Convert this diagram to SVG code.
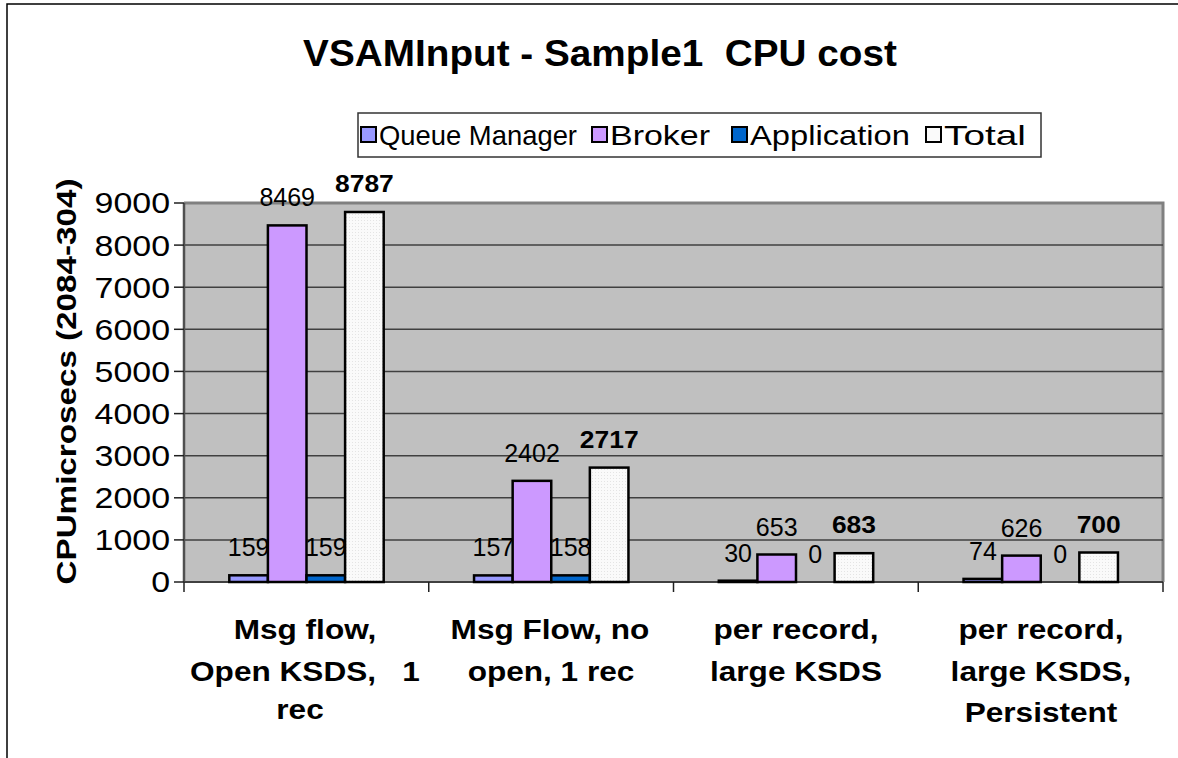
<svg xmlns="http://www.w3.org/2000/svg" width="1178" height="758" viewBox="0 0 1178 758">
  <defs>
    <style>
      text { font-family: "Liberation Sans", Arial, sans-serif; fill: #000; }
      .title { font-size: 37px; font-weight: bold; text-anchor: middle; }
      .leg { font-size: 28px; }
      .tick { font-size: 29px; text-anchor: end; }
      .cat { font-size: 27px; font-weight: bold; text-anchor: middle; }
      .ytitle { font-size: 27px; font-weight: bold; text-anchor: middle; }
      .val { font-size: 25px; text-anchor: middle; }
      .valb { font-size: 24px; font-weight: bold; text-anchor: middle; }
      .bar { stroke: #000; stroke-width: 2.5; }
      .qm { fill: #9999FF; }
      .br { fill: #CC99FF; }
      .ap { fill: #0066CC; }
      .tot { fill: url(#dots); }
      .key { stroke: #000; stroke-width: 2; }
      .grid { stroke: #404040; stroke-width: 1.5; }
      .tk { stroke: #202020; stroke-width: 1.5; }
    </style>
    <pattern id="dots" width="3" height="3" patternUnits="userSpaceOnUse">
      <rect width="3" height="3" fill="#FAFAFA"/>
      <rect x="1" y="1" width="1" height="1" fill="#E4E4E4"/>
    </pattern>
  </defs>

  <!-- chart frame -->
  <rect width="1178" height="758" fill="#FFFFFF"/>
  <path d="M7,758 V4 H1178" fill="none" stroke="#000" stroke-width="1.5"/>

  <!-- title -->
  <text id="title" class="title" xml:space="preserve" transform="translate(600,66) scale(1.047,1)">VSAMInput - Sample1  CPU cost</text>

  <!-- legend -->
  <g id="legend">
    <rect x="358" y="113" width="683" height="44" fill="#FFFFFF" stroke="#333" stroke-width="1.5"/>
    <rect class="key qm" x="361" y="127" width="15" height="15"/>
    <text class="leg" x="379" y="145" textLength="198" lengthAdjust="spacingAndGlyphs">Queue Manager</text>
    <rect class="key br" x="592" y="127" width="15" height="15"/>
    <text class="leg" x="610" y="145" textLength="100" lengthAdjust="spacingAndGlyphs">Broker</text>
    <rect class="key ap" x="732" y="127" width="15" height="15"/>
    <text class="leg" x="750" y="145" textLength="160" lengthAdjust="spacingAndGlyphs">Application</text>
    <rect class="key" x="926" y="127" width="15" height="15" fill="#FAFAFA"/>
    <text class="leg" x="944" y="145" textLength="82" lengthAdjust="spacingAndGlyphs">Total</text>
  </g>

  <!-- plot area -->
  <g id="plot">
    <rect x="184" y="203" width="979" height="379" fill="#C0C0C0"/>
    <path d="M184,203 H1163 V582" fill="none" stroke="#808080" stroke-width="3"/>
    <g class="grid">
      <line x1="184" y1="245.1" x2="1163" y2="245.1"/>
      <line x1="184" y1="287.2" x2="1163" y2="287.2"/>
      <line x1="184" y1="329.3" x2="1163" y2="329.3"/>
      <line x1="184" y1="371.4" x2="1163" y2="371.4"/>
      <line x1="184" y1="413.6" x2="1163" y2="413.6"/>
      <line x1="184" y1="455.7" x2="1163" y2="455.7"/>
      <line x1="184" y1="497.8" x2="1163" y2="497.8"/>
      <line x1="184" y1="539.9" x2="1163" y2="539.9"/>
    </g>
  </g>

  <!-- axes -->
  <g id="axes">
    <line x1="184" y1="203" x2="184" y2="582" stroke="#505050" stroke-width="2.5"/>
    <line x1="184" y1="582" x2="1163" y2="582" stroke="#404040" stroke-width="2"/>
    <g class="tk">
      <line x1="174" y1="203" x2="184" y2="203"/>
      <line x1="174" y1="245.1" x2="184" y2="245.1"/>
      <line x1="174" y1="287.2" x2="184" y2="287.2"/>
      <line x1="174" y1="329.3" x2="184" y2="329.3"/>
      <line x1="174" y1="371.4" x2="184" y2="371.4"/>
      <line x1="174" y1="413.6" x2="184" y2="413.6"/>
      <line x1="174" y1="455.7" x2="184" y2="455.7"/>
      <line x1="174" y1="497.8" x2="184" y2="497.8"/>
      <line x1="174" y1="539.9" x2="184" y2="539.9"/>
      <line x1="174" y1="582" x2="184" y2="582"/>
      <line x1="184" y1="582" x2="184" y2="592"/>
      <line x1="428.75" y1="582" x2="428.75" y2="592"/>
      <line x1="673.5" y1="582" x2="673.5" y2="592"/>
      <line x1="918.25" y1="582" x2="918.25" y2="592"/>
      <line x1="1163" y1="582" x2="1163" y2="592"/>
    </g>
    <text class="tick" transform="translate(170,213.4) scale(1.17,1)">9000</text>
    <text class="tick" transform="translate(170,255.5) scale(1.17,1)">8000</text>
    <text class="tick" transform="translate(170,297.6) scale(1.17,1)">7000</text>
    <text class="tick" transform="translate(170,339.7) scale(1.17,1)">6000</text>
    <text class="tick" transform="translate(170,381.8) scale(1.17,1)">5000</text>
    <text class="tick" transform="translate(170,424) scale(1.17,1)">4000</text>
    <text class="tick" transform="translate(170,466.1) scale(1.17,1)">3000</text>
    <text class="tick" transform="translate(170,508.2) scale(1.17,1)">2000</text>
    <text class="tick" transform="translate(170,550.3) scale(1.17,1)">1000</text>
    <text class="tick" transform="translate(170,592.4) scale(1.17,1)">0</text>
    <text class="ytitle" transform="translate(76,381.5) rotate(-90) scale(1.23,1)">CPUmicrosecs (2084-304)</text>
  </g>

  <!-- value labels (drawn beneath the bars) -->
  <g id="labels">
    <text class="val" x="248.6" y="556.3">159</text>
    <text class="val" x="287.2" y="206.4">8469</text>
    <text class="val" x="325.8" y="556.3">159</text>
    <text class="valb" transform="translate(364.4,192) scale(1.1,1)">8787</text>

    <text class="val" x="493.4" y="556.4">157</text>
    <text class="val" x="532" y="461.9">2402</text>
    <text class="val" x="570.6" y="556.4">158</text>
    <text class="valb" transform="translate(609.2,447.6) scale(1.1,1)">2717</text>

    <text class="val" x="738.1" y="561.7">30</text>
    <text class="val" x="776.7" y="535.5">653</text>
    <text class="val" x="815.3" y="563">0</text>
    <text class="valb" transform="translate(853.9,533.2) scale(1.1,1)">683</text>

    <text class="val" x="982.9" y="559.9">74</text>
    <text class="val" x="1021.5" y="536.6">626</text>
    <text class="val" x="1060.1" y="563">0</text>
    <text class="valb" transform="translate(1098.7,532.5) scale(1.1,1)">700</text>
  </g>

  <!-- bars -->
  <g id="bars">
    <g id="cat1">
      <rect class="bar qm" x="229.3" y="575.3" width="38.6" height="6.7"/>
      <rect class="bar br" x="267.9" y="225.4" width="38.6" height="356.6"/>
      <rect class="bar ap" x="306.5" y="575.3" width="38.6" height="6.7"/>
      <rect class="bar tot" x="345.1" y="212" width="38.6" height="370"/>
    </g>
    <g id="cat2">
      <rect class="bar qm" x="474.05" y="575.4" width="38.6" height="6.6"/>
      <rect class="bar br" x="512.65" y="480.85" width="38.6" height="101.15"/>
      <rect class="bar ap" x="551.25" y="575.35" width="38.6" height="6.65"/>
      <rect class="bar tot" x="589.85" y="467.6" width="38.6" height="114.4"/>
    </g>
    <g id="cat3">
      <rect class="bar qm" x="718.8" y="580.7" width="38.6" height="1.3"/>
      <rect class="bar br" x="757.4" y="554.5" width="38.6" height="27.5"/>
      <rect class="bar tot" x="834.6" y="553.2" width="38.6" height="28.8"/>
    </g>
    <g id="cat4">
      <rect class="bar qm" x="963.55" y="578.9" width="38.6" height="3.1"/>
      <rect class="bar br" x="1002.15" y="555.6" width="38.6" height="26.4"/>
      <rect class="bar tot" x="1079.35" y="552.5" width="38.6" height="29.5"/>
    </g>
  </g>

  <!-- category labels -->
  <g id="categories">
    <g id="cat1-label">
      <text class="cat" transform="translate(305,639) scale(1.17,1)">Msg flow,</text>
      <text class="cat" xml:space="preserve" transform="translate(305,681) scale(1.17,1)">Open KSDS,   1</text>
      <text class="cat" transform="translate(300,719) scale(1.17,1)">rec</text>
    </g>
    <g id="cat2-label">
      <text class="cat" transform="translate(550,639) scale(1.17,1)">Msg Flow, no</text>
      <text class="cat" transform="translate(551,681) scale(1.17,1)">open, 1 rec</text>
    </g>
    <g id="cat3-label">
      <text class="cat" transform="translate(796,639) scale(1.17,1)">per record,</text>
      <text class="cat" transform="translate(796,681) scale(1.17,1)">large KSDS</text>
    </g>
    <g id="cat4-label">
      <text class="cat" transform="translate(1041,639) scale(1.17,1)">per record,</text>
      <text class="cat" transform="translate(1041,681) scale(1.17,1)">large KSDS,</text>
      <text class="cat" transform="translate(1041,722) scale(1.17,1)">Persistent</text>
    </g>
  </g>
</svg>
